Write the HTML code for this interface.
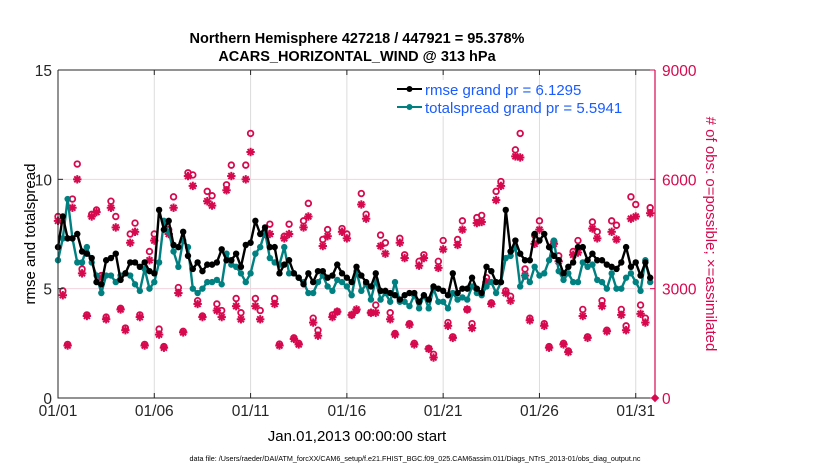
<!DOCTYPE html>
<html><head><meta charset="utf-8"><style>
body{margin:0;background:#fff;}
svg{display:block;font-family:"Liberation Sans",sans-serif;}
</style></head><body>
<svg id="chart" width="830" height="470">
<text x="357" y="43" text-anchor="middle" font-size="14.5" font-weight="bold">Northern Hemisphere 427218 / 447921 = 95.378%</text>
<text x="357" y="61" text-anchor="middle" font-size="14.5" font-weight="bold">ACARS_HORIZONTAL_WIND @ 313 hPa</text>
<g id="grid"></g>
<g id="obs"></g>
<g id="lines"></g>
<g id="axes"></g>
<rect x="385" y="80" width="145" height="36" fill="#fff"/>
<g>
<line x1="397" y1="89" x2="422" y2="89" stroke="#000" stroke-width="2"/><circle cx="409.5" cy="89" r="3" fill="#000"/>
<text x="425" y="95" font-size="15" fill="#1a5cff">rmse grand pr = 6.1295</text></g>
<g>
<line x1="397" y1="107" x2="422" y2="107" stroke="#008080" stroke-width="2"/><circle cx="409.5" cy="107" r="3" fill="#008080"/>
<text x="425" y="113" font-size="15" fill="#1a5cff">totalspread grand pr = 5.5941</text></g>
<text transform="translate(35,234) rotate(-90)" text-anchor="middle" font-size="15">rmse and totalspread</text>
<text transform="translate(706,234) rotate(90)" text-anchor="middle" font-size="15" fill="#d6094f"># of obs: o=possible; ×=assimilated</text>
<text x="357" y="441" text-anchor="middle" font-size="15">Jan.01,2013 00:00:00 start</text>
<text x="415" y="461" text-anchor="middle" font-size="7.2">data file: /Users/raeder/DAI/ATM_forcXX/CAM6_setup/f.e21.FHIST_BGC.f09_025.CAM6assim.011/Diags_NTrS_2013-01/obs_diag_output.nc</text>
</svg>
<script>
const rmse=[6.9,8.3,7.3,7.3,7.5,6.7,6.6,6.4,5.3,5.2,6.3,6.4,6.6,5.4,5.7,6.2,6.2,6.0,6.2,5.8,5.7,8.6,7.7,8.1,7.0,6.9,7.6,6.5,5.9,6.2,5.8,6.1,6.1,6.2,6.8,6.3,6.3,6.6,6.0,7.0,7.1,8.1,7.5,7.8,6.9,6.9,5.7,6.1,6.3,5.7,5.5,5.2,5.7,5.3,5.8,5.8,5.5,5.6,6.1,5.7,5.5,5.3,6.0,5.6,5.3,5.1,5.7,4.9,4.9,4.8,4.7,4.5,4.7,4.8,4.8,4.4,4.7,4.5,5.1,5.0,4.9,4.7,5.7,4.8,5.0,5.0,5.5,5.0,4.8,6.0,5.8,5.3,5.3,8.6,6.7,7.2,6.6,6.3,6.3,7.5,7.2,7.5,6.9,6.5,6.3,5.7,6.0,6.2,6.9,6.9,6.3,6.6,6.3,6.3,6.1,6.0,5.9,6.2,6.9,6.0,6.2,5.6,6.2,5.5];
const spread=[6.3,7.3,9.1,7.3,6.2,6.2,6.9,6.2,5.6,4.8,5.6,5.6,5.3,5.6,5.7,5.6,5.2,4.9,5.9,5.0,5.3,6.2,8.1,7.6,6.7,6.0,7.2,6.9,5.0,4.8,5.0,5.3,5.3,5.4,5.2,6.6,6.1,6.0,5.7,5.3,5.7,6.6,6.9,7.6,6.4,6.2,6.1,6.9,5.7,5.7,5.5,5.3,4.8,4.8,5.3,5.6,5.1,4.9,5.4,5.3,5.1,4.7,5.8,4.9,5.2,4.5,5.4,4.5,4.8,4.4,5.3,4.4,4.4,4.2,4.7,4.1,4.7,4.1,5.0,4.4,4.4,4.1,4.8,4.5,4.6,4.5,5.1,4.8,4.7,5.1,5.3,4.8,5.3,6.4,6.5,6.9,5.1,5.6,5.3,6.0,5.6,5.7,6.3,7.2,5.8,5.4,5.7,5.3,5.3,6.2,6.0,6.1,5.4,5.3,5.0,5.7,5.0,5.0,5.5,5.7,5.3,4.9,6.3,5.3];
const possible=[4980,2940,1470,5460,6420,3540,2280,5040,5160,3360,2220,5400,4980,2460,1920,4500,4800,2280,1470,4020,4500,1890,1410,4620,5520,3030,1830,6180,6120,2670,2250,5670,5550,2580,2400,5850,6390,2730,2340,6390,7260,2730,2400,4560,4770,2730,1480,4440,4770,1650,1500,4860,5340,2190,1860,4350,4620,2280,2370,4650,4500,2280,2400,5610,5040,2340,2550,4470,4260,2340,1770,4380,3930,2040,1500,3750,3930,1360,1200,3750,4320,2070,1680,4350,4860,2430,2040,4950,5010,3300,2610,5670,5940,2940,2790,6810,7260,3540,2190,4470,4860,2040,1410,4290,3900,1500,1290,4020,4320,2430,1680,4830,4560,2670,1860,4860,4740,2430,1980,5520,5310,2550,2190,5220,0];
const assimilated=[4860,2820,1440,5220,6000,3420,2250,4980,5100,3300,2160,5220,4680,2430,1860,4260,4560,2220,1440,3780,4320,1740,1380,4500,5220,2880,1800,6090,5820,2580,2220,5400,5280,2400,2220,5700,6090,2520,2160,6000,6750,2520,2160,4500,4500,2580,1440,4380,4500,1620,1470,4680,4980,2070,1710,4170,4440,2220,2370,4560,4380,2280,2430,5310,4920,2340,2340,4170,3960,2160,1740,4260,3840,2010,1470,3630,3840,1350,1110,3570,4080,1980,1650,4200,4620,2430,1920,4800,4830,3180,2580,5430,5820,2880,2670,6630,6600,3360,2130,4230,4620,1980,1380,4230,3750,1470,1260,3930,3990,2250,1650,4650,4380,2520,1830,4560,4350,2280,1860,4920,4980,2310,2070,5070,0];
const NS="http://www.w3.org/2000/svg";
const X0=58,X1=655,Y0=398,Y1=70;
const x=i=>X0+(X1-X0)*(i*0.25)/31;
const yl=v=>Y0-(Y0-Y1)*v/15;
const yr=v=>Y0-(Y0-Y1)*v/9000;
const MAG="#d6094f";
function mk(p,tag,attrs){const e=document.createElementNS(NS,tag);for(const k in attrs)e.setAttribute(k,attrs[k]);p.appendChild(e);return e;}
const grid=document.getElementById('grid'),axes=document.getElementById('axes'),obs=document.getElementById('obs'),lines=document.getElementById('lines');
for(let d=5;d<=30;d+=5){const g=mk(grid,'line',{x1:x(d*4),x2:x(d*4),y1:Y1,y2:Y0,stroke:'#dcdcdc','stroke-width':1});

}
[3000,6000].forEach(v=>{const g=mk(grid,'line',{x1:X0,x2:X1,y1:yr(v),y2:yr(v),stroke:'#f3d3de','stroke-width':1});

});
function star(cx,cy){const g=mk(obs,'g',{stroke:MAG,'stroke-width':2});


const r=4.2;for(let a=0;a<4;a++){const t=a*Math.PI/4;mk(g,'line',{x1:cx-r*Math.cos(t),y1:cy-r*Math.sin(t),x2:cx+r*Math.cos(t),y2:cy+r*Math.sin(t)});}
mk(g,'circle',{cx:cx,cy:cy,r:1.8,fill:MAG,stroke:'none'});}
possible.forEach((v,i)=>{if(v===0)return;const c=mk(obs,'circle',{cx:x(i),cy:yr(v),r:2.8,fill:'none',stroke:MAG,'stroke-width':1.8});

});
assimilated.forEach((v,i)=>{if(v===0){const d=mk(obs,'rect',{x:x(i)-3,y:yr(0)-3,width:6,height:6,fill:MAG,transform:`rotate(45 ${x(i)} ${yr(0)})`});

return;}star(x(i),yr(v));});
function series(arr,col,name){const pts=arr.map((v,i)=>x(i)+','+yl(v)).join(' ');
const pl=mk(lines,'polyline',{points:pts,fill:'none',stroke:col,'stroke-width':2.4,'stroke-linejoin':'round'});


arr.forEach((v,i)=>{const c=mk(lines,'circle',{cx:x(i),cy:yl(v),r:3.2,fill:col});

});}
series(spread,'#008080','totalspread');
series(rmse,'#000','rmse');
const ab=mk(axes,'path',{d:`M${X0},${Y1}H${X1}M${X0},${Y1}V${Y0}H${X1}`,stroke:'#262626','stroke-width':1,fill:'none'});


const ra=mk(axes,'line',{x1:X1,x2:X1,y1:Y1,y2:Y0,stroke:MAG,'stroke-width':1.2});


const xt=['01/01','01/06','01/11','01/16','01/21','01/26','01/31'];
xt.forEach((t,k)=>{const xx=x(k*20);mk(axes,'path',{d:`M${xx},${Y0}v-5M${xx},${Y1}v5`,stroke:'#262626'});
const tx=mk(axes,'text',{x:xx,y:Y0+18,'text-anchor':'middle','font-size':15.5,fill:'#262626'});tx.textContent=t;

});
const ylt=[0,5,10,15];
ylt.forEach(v=>{mk(axes,'path',{d:`M${X0},${yl(v)}h5`,stroke:'#262626'});
const tx=mk(axes,'text',{x:X0-6,y:yl(v)+6,'text-anchor':'end','font-size':15.5,fill:'#262626'});tx.textContent=v;

});
const yrt=[0,3000,6000,9000];
yrt.forEach(v=>{mk(axes,'path',{d:`M${X1},${yr(v)}h-5`,stroke:MAG});
const tx=mk(axes,'text',{x:X1+7,y:yr(v)+6,'font-size':15.5,fill:MAG});tx.textContent=v;

});
</script>
</body></html>
